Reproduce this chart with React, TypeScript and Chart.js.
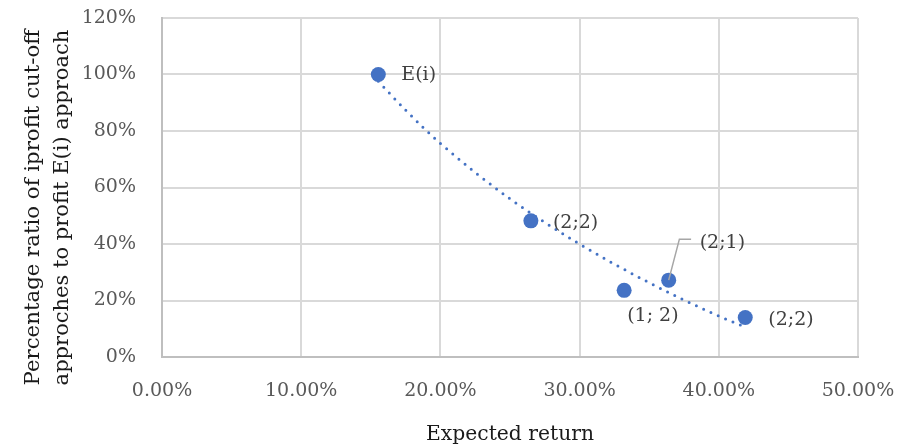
import React, { useEffect, useRef } from 'react';
import { Chart, registerables } from 'chart.js';

Chart.register(...registerables);

// ---- data ----
const expectedReturn = [15.54, 26.5, 33.2, 36.4, 41.9];
const profitRatio = [100, 48.2, 23.6, 27.2, 14.0];
const pointLabels = ['E(i)', '(2;2)', '(1; 2)', '(2;1)', '(2;2)'];
const trendX = [15.54, 17.5, 20, 25, 30, 35, 40, 41.9];
const trendY = [97.6, 87.4, 75.6, 56.0, 40.0, 26.3, 14.5, 10.6];
const xTicks = [0, 10, 20, 30, 40, 50];
const yTicks = [0, 20, 40, 60, 80, 100, 120];
const xTitle = 'Expected return';
const yTitleLines = ['Percentage ratio of iprofit cut-off', 'approches to profit E(i) approach'];

// ---- styling / layout ----
const FONT = '"DejaVu Serif", serif';
const BLUE = '#4472C4';
const labelPlacement = [
  { dx: 23, dy: 1 },
  { dx: 22, dy: 2 },
  { dx: 3, dy: 26 },
  { dx: 31, dy: -37, leader: [[10.7, -41], [22.4, -41]] },
  { dx: 23, dy: 3 },
];

const fitFont = (ctx: CanvasRenderingContext2D, text: string, target: number) => {
  ctx.font = `20px ${FONT}`;
  const w = ctx.measureText(text).width;
  return 20 * target / w;
};

const annotate = {
  id: 'annotate',
  afterDatasetsDraw(chart: any) {
    const ctx: CanvasRenderingContext2D = chart.ctx;
    const meta = chart.getDatasetMeta(0);
    ctx.save();
    meta.data.forEach((el: any, i: number) => {
      const p: any = labelPlacement[i];
      if (p.leader) {
        ctx.strokeStyle = '#a6a6a6';
        ctx.lineWidth = 1.5;
        ctx.beginPath();
        ctx.moveTo(el.x, el.y);
        p.leader.forEach((q: number[]) => ctx.lineTo(el.x + q[0], el.y + q[1]));
        ctx.stroke();
      }
    });
    ctx.font = `19px ${FONT}`;
    ctx.fillStyle = '#404040';
    ctx.textBaseline = 'middle';
    ctx.textAlign = 'left';
    meta.data.forEach((el: any, i: number) => {
      const p = labelPlacement[i];
      ctx.fillText(pointLabels[i], el.x + p.dx, el.y + p.dy);
    });

    // axis titles
    const area = chart.chartArea;
    ctx.fillStyle = '#1a1a1a';
    ctx.textAlign = 'center';
    ctx.textBaseline = 'alphabetic';
    const xs = fitFont(ctx, xTitle, 168);
    ctx.font = `${xs}px ${FONT}`;
    ctx.fillText(xTitle, (area.left + area.right) / 2, 440);

    const baselines = [39, 68];
    yTitleLines.forEach((line, i) => {
      const s = fitFont(ctx, line, 356);
      ctx.save();
      ctx.font = `${s}px ${FONT}`;
      ctx.translate(baselines[i], 207.5);
      ctx.rotate(-Math.PI / 2);
      ctx.fillText(line, 0, 0);
      ctx.restore();
    });
    ctx.restore();
  },
};

export default function App() {
  const ref = useRef<HTMLCanvasElement | null>(null);

  useEffect(() => {
    if (!ref.current) return;
    const chart = new Chart(ref.current, {
      type: 'scatter',
      data: {
        datasets: [
          {
            label: 'points',
            data: expectedReturn.map((x, i) => ({ x, y: profitRatio[i] })),
            backgroundColor: BLUE,
            borderColor: BLUE,
            pointRadius: 7.5,
            pointBorderWidth: 0,
            showLine: false,
          },
          {
            label: 'trend',
            data: trendX.map((x, i) => ({ x, y: trendY[i] })),
            showLine: true,
            borderColor: BLUE,
            borderWidth: 3,
            borderDash: [0, 8],
            borderCapStyle: 'round',
            pointRadius: 0,
            cubicInterpolationMode: 'monotone',
            fill: false,
          } as any,
        ],
      },
      options: {
        animation: false,
        responsive: false,
        maintainAspectRatio: false,
        layout: { padding: { top: 18, right: 39, left: 0, bottom: 0 } },
        plugins: { legend: { display: false }, tooltip: { enabled: false } },
        scales: {
          x: {
            type: 'linear',
            min: 0,
            max: 50,
            afterBuildTicks: (s: any) => { s.ticks = xTicks.map((v) => ({ value: v })); },
            afterFit: (s: any) => { s.height = 91; s.paddingLeft = 0; s.paddingRight = 0; },
            grid: { color: '#d9d9d9', lineWidth: 2, drawTicks: false },
            border: { color: '#bfbfbf', width: 2 },
            ticks: {
              padding: 23,
              color: '#595959',
              font: { family: FONT, size: 19 },
              maxRotation: 0,
              callback: (v: any) => Number(v).toFixed(2) + '%',
            },
          },
          y: {
            type: 'linear',
            min: 0,
            max: 120,
            afterBuildTicks: (s: any) => { s.ticks = yTicks.map((v) => ({ value: v })); },
            afterFit: (s: any) => { s.width = 162; s.paddingTop = 0; s.paddingBottom = 0; },
            grid: { color: '#d9d9d9', lineWidth: 2, drawTicks: false },
            border: { color: '#bfbfbf', width: 2 },
            ticks: {
              padding: 26,
              color: '#595959',
              font: { family: FONT, size: 19 },
              callback: (v: any) => v + '%',
            },
          },
        },
      },
      plugins: [annotate],
    });
    return () => chart.destroy();
  }, []);

  return (
    <div style={{ position: 'fixed', left: 0, top: 0, width: 897, height: 448, background: '#fff' }}>
      <canvas ref={ref} width={897} height={448} />
    </div>
  );
}
